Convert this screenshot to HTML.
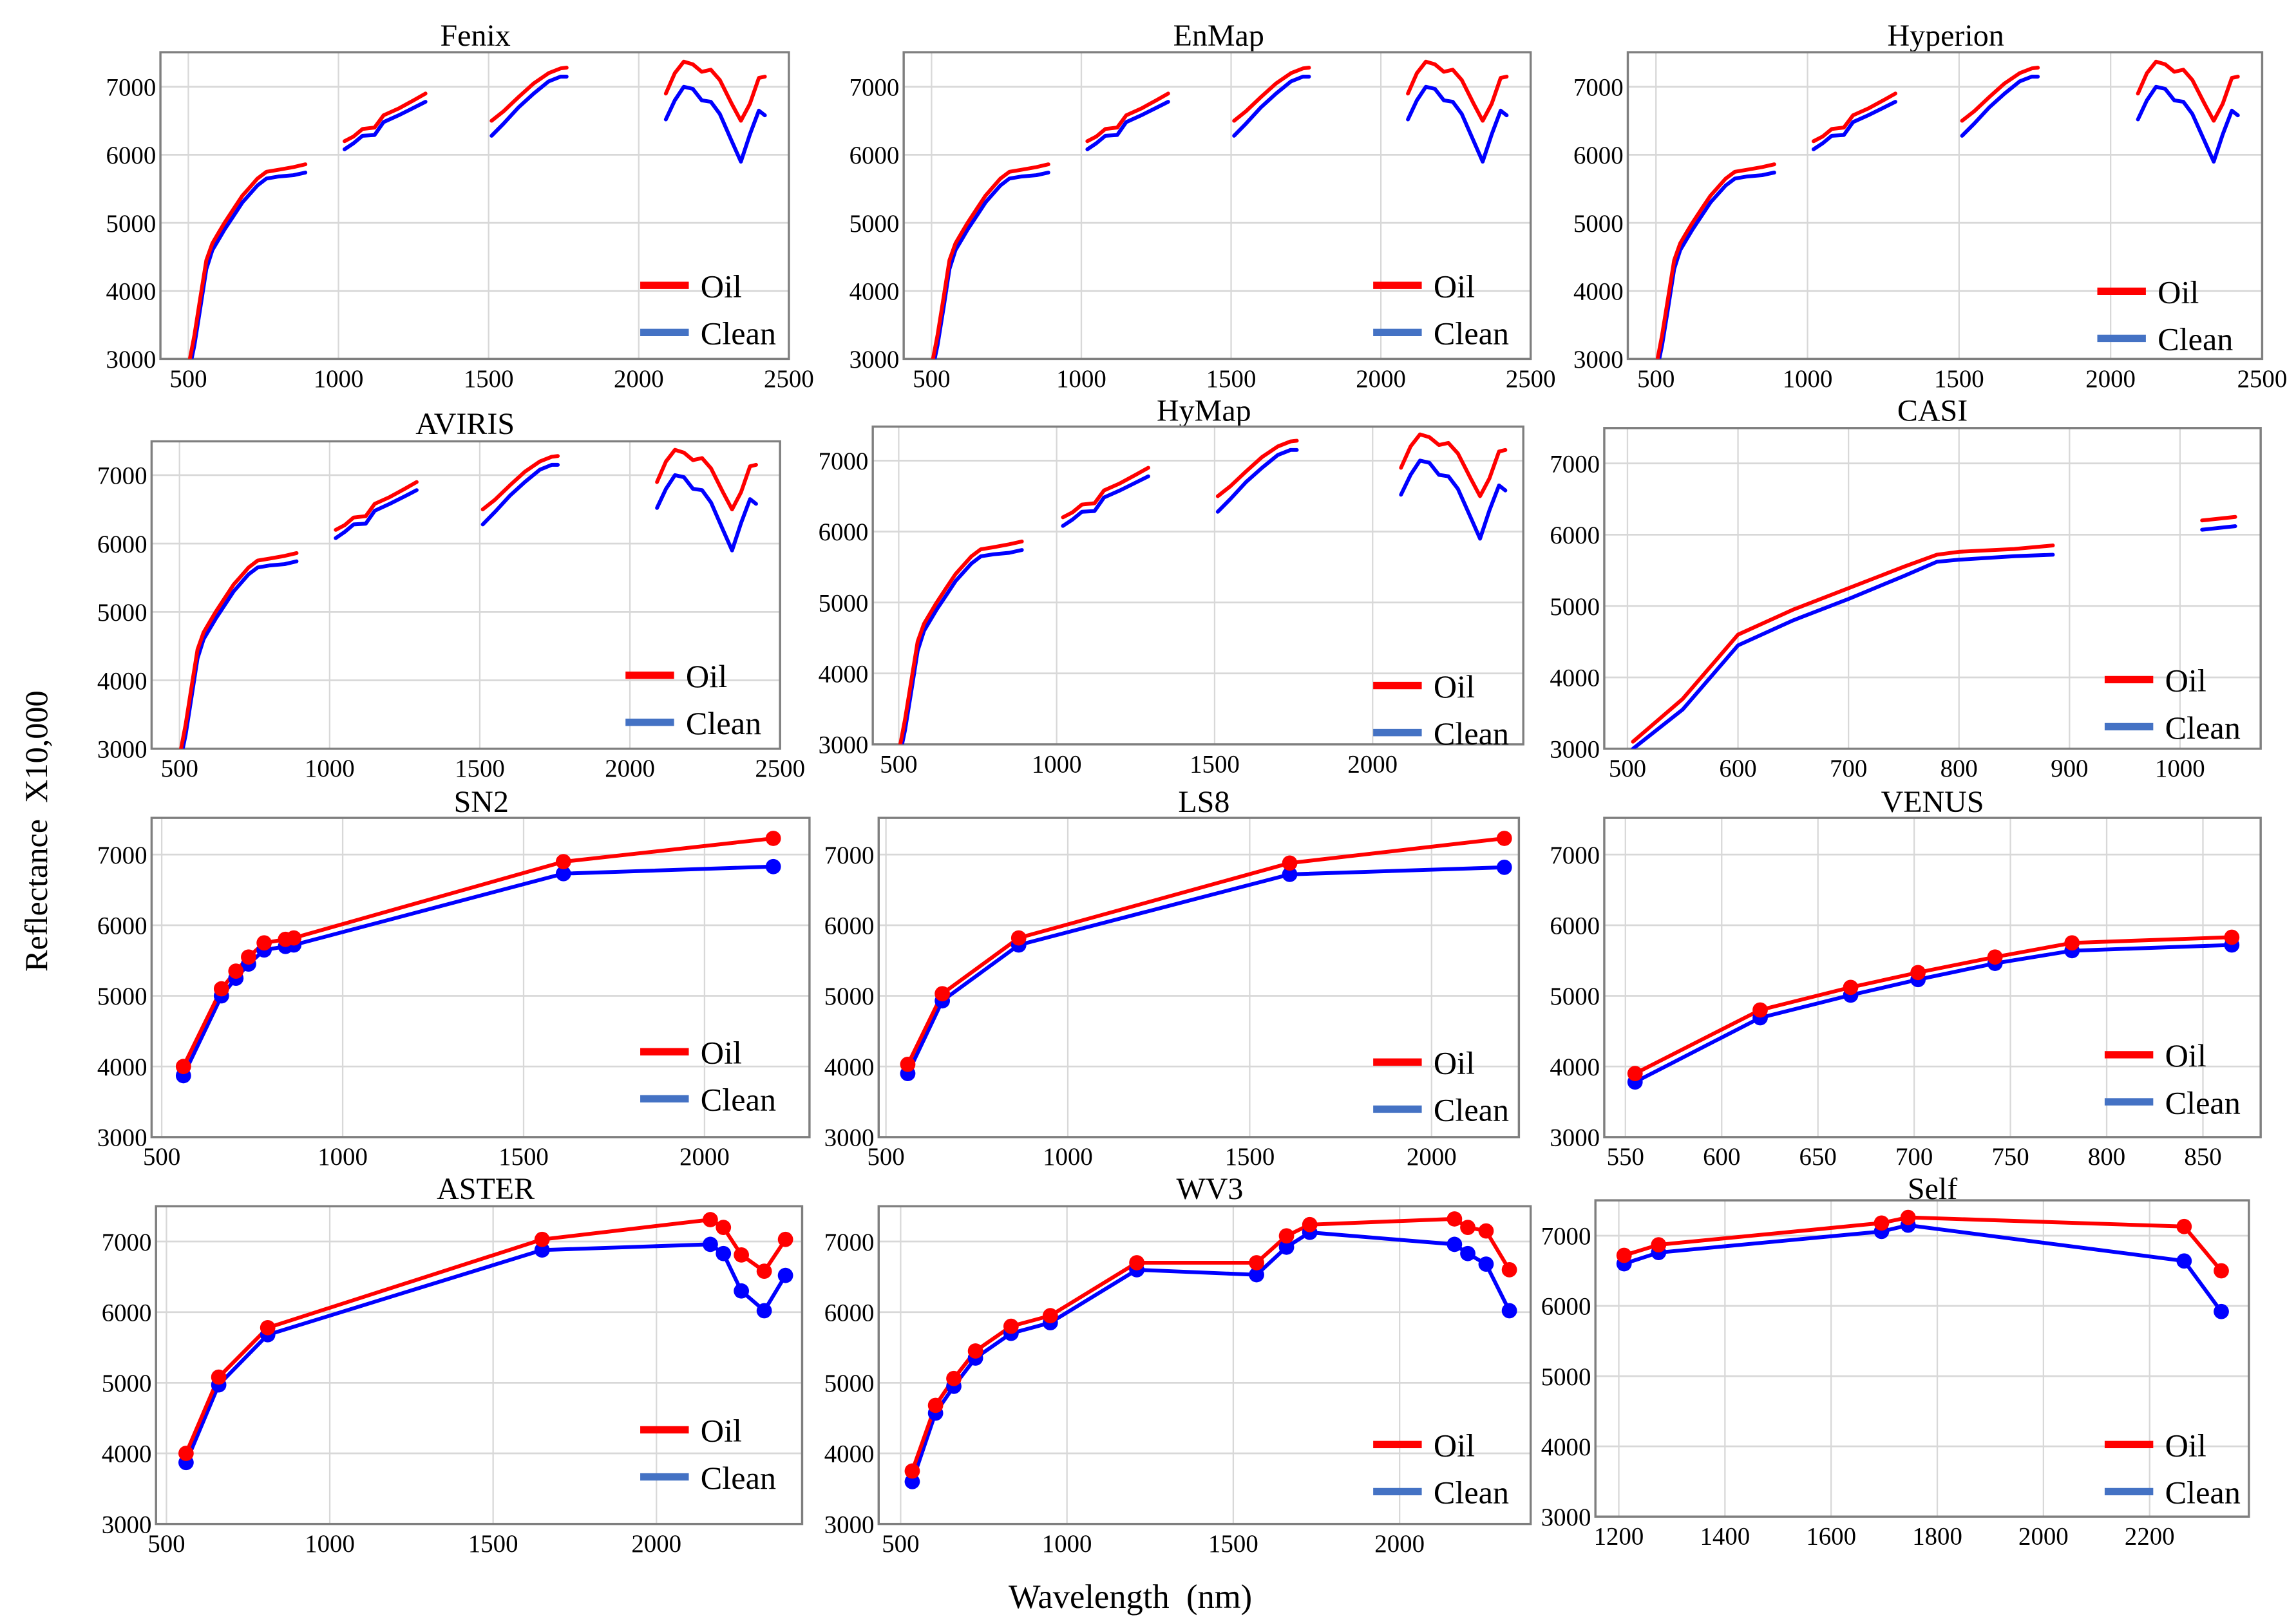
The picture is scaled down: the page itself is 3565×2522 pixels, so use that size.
<!DOCTYPE html>
<html><head><meta charset="utf-8"><style>
html,body{margin:0;padding:0;background:#fff;}
svg{display:block;font-family:"Liberation Serif",serif;}
</style></head><body>
<svg id="fig" width="3565" height="2522" viewBox="0 0 1560 1104" preserveAspectRatio="none" xmlns="http://www.w3.org/2000/svg">
<text x="0" y="0" transform="translate(32,565) rotate(-90)" text-anchor="middle" font-size="22">Reflectance&#160;&#160;X10,000</text>
<text x="768" y="1093" text-anchor="middle" font-size="23">Wavelength&#160;&#160;(nm)</text>
</svg>
<script>
// Shared hyperspectral spectrum (segments)
const hsWl = [
 [505,520,540,560,580,600,620,650,680,700,730,760,800,850,890],
 [1020,1050,1080,1120,1150,1200,1250,1290],
 [1510,1550,1600,1650,1700,1740,1760],
 [2090,2120,2150,2180,2210,2240,2270,2310,2340,2370,2400,2420]
];
const hsOil = [
 [3000,3350,3900,4450,4700,4850,5000,5200,5400,5500,5650,5750,5780,5820,5860],
 [6200,6270,6380,6400,6580,6680,6800,6900],
 [6500,6640,6850,7050,7200,7270,7280],
 [6900,7200,7370,7330,7220,7250,7100,6750,6500,6750,7130,7150]
];
const hsClean = [
 [2880,3200,3750,4320,4600,4750,4900,5100,5300,5400,5550,5650,5680,5700,5740],
 [6080,6170,6280,6290,6480,6580,6690,6780],
 [6280,6460,6700,6900,7080,7150,7150],
 [6520,6800,7000,6970,6800,6780,6600,6200,5900,6300,6650,6580]
];
const casiWl = [[505,550,600,650,700,750,780,800,850,885],[1020,1050]];
const casiOil = [[3100,3700,4600,4950,5250,5550,5720,5760,5800,5850],[6200,6250]];
const casiClean = [[3000,3550,4450,4800,5100,5420,5620,5650,5700,5720],[6070,6120]];
const sn2Wl = [560,665,705,740,783,842,865,1610,2190];
const sn2Oil = [4000,5100,5350,5550,5750,5800,5820,6900,7230];
const sn2Clean = [3870,5000,5250,5450,5650,5700,5720,6730,6830];
const ls8Wl = [560,655,865,1610,2200];
const ls8Oil = [4030,5030,5820,6880,7230];
const ls8Clean = [3900,4930,5720,6720,6820];
const venWl = [555,620,667,702,742,782,865];
const venOil = [3900,4800,5120,5330,5550,5750,5830];
const venClean = [3780,4690,5010,5230,5460,5640,5720];
const astWl = [560,660,810,1650,2165,2205,2260,2330,2395];
const astOil = [4000,5080,5780,7030,7310,7200,6810,6580,7030];
const astClean = [3870,4970,5680,6880,6960,6830,6300,6020,6520];
const wv3Wl = [535,605,660,725,832,950,1210,1570,1660,1730,2165,2205,2260,2330];
const wv3Oil = [3750,4680,5060,5450,5800,5950,6700,6700,7080,7240,7320,7200,7150,6600];
const wv3Clean = [3600,4570,4950,5350,5700,5850,6600,6530,6920,7130,6960,6830,6680,6020];
const selfWl = [1210,1275,1695,1745,2265,2335];
const selfOil = [6720,6870,7180,7260,7130,6500];
const selfClean = [6600,6760,7060,7150,6640,5920];
const yTicks = [3000,4000,5000,6000,7000];
const hsTicks = [500,1000,1500,2000,2500];

const panels = [
 {name:'Fenix',box:[109,35.5,536,244],xd:[407,2500],yd:[3000,7508],ticks:hsTicks,wl:hsWl,oil:hsOil,clean:hsClean,mk:false,tx:323,ty:31,lg:[435,194]},
 {name:'EnMap',box:[614,35.5,1040,244],xd:[407,2500],yd:[3000,7508],ticks:hsTicks,wl:hsWl,oil:hsOil,clean:hsClean,mk:false,tx:828,ty:31,lg:[933,194]},
 {name:'Hyperion',box:[1106,35.5,1537,244],xd:[407,2500],yd:[3000,7508],ticks:hsTicks,wl:hsWl,oil:hsOil,clean:hsClean,mk:false,tx:1322,ty:31,lg:[1425,198]},
 {name:'AVIRIS',box:[103,300,530,509],xd:[407,2500],yd:[3000,7495],ticks:hsTicks,wl:hsWl,oil:hsOil,clean:hsClean,mk:false,tx:316,ty:295,lg:[425,459]},
 {name:'HyMap',box:[593,290,1035,506],xd:[418,2477],yd:[3000,7480],ticks:[500,1000,1500,2000],wl:hsWl,oil:hsOil,clean:hsClean,mk:false,tx:818,ty:286,lg:[933,466]},
 {name:'CASI',box:[1090,291,1536,509],xd:[479,1073],yd:[3000,7495],ticks:[500,600,700,800,900,1000],wl:casiWl,oil:casiOil,clean:casiClean,mk:false,tx:1313,ty:286,lg:[1430,462]},
 {name:'SN2',box:[103,556,550,773],xd:[472,2290],yd:[3000,7520],ticks:[500,1000,1500,2000],wl:[sn2Wl],oil:[sn2Oil],clean:[sn2Clean],mk:true,tx:327,ty:552,lg:[435,715]},
 {name:'LS8',box:[597,556,1032,773],xd:[480,2240],yd:[3000,7520],ticks:[500,1000,1500,2000],wl:[ls8Wl],oil:[ls8Oil],clean:[ls8Clean],mk:true,tx:818,ty:552,lg:[933,722]},
 {name:'VENUS',box:[1090,556,1536,773],xd:[539,880],yd:[3000,7520],ticks:[550,600,650,700,750,800,850],wl:[venWl],oil:[venOil],clean:[venClean],mk:true,tx:1313,ty:552,lg:[1430,717]},
 {name:'ASTER',box:[106,820,545,1036],xd:[468,2446],yd:[3000,7500],ticks:[500,1000,1500,2000],wl:[astWl],oil:[astOil],clean:[astClean],mk:true,tx:330,ty:815,lg:[435,972]},
 {name:'WV3',box:[597,820,1040,1036],xd:[434,2394],yd:[3000,7500],ticks:[500,1000,1500,2000],wl:[wv3Wl],oil:[wv3Oil],clean:[wv3Clean],mk:true,tx:822,ty:815,lg:[933,982]},
 {name:'Self',box:[1084,816,1528,1031],xd:[1156,2387],yd:[3000,7503],ticks:[1200,1400,1600,1800,2000,2200],wl:[selfWl],oil:[selfOil],clean:[selfClean],mk:true,tx:1313,ty:815,lg:[1430,982]}
];
const NS='http://www.w3.org/2000/svg';
const svg=document.getElementById('fig');
function mk(tag,attrs,parent){const e=document.createElementNS(NS,tag);for(const k in attrs)e.setAttribute(k,attrs[k]);(parent||svg).appendChild(e);return e;}
const defs=mk('defs',{});
panels.forEach((p,i)=>{
 const [x0,y0,x1,y1]=p.box;
 const sx=v=>x0+(v-p.xd[0])/(p.xd[1]-p.xd[0])*(x1-x0);
 const sy=v=>y1-(v-p.yd[0])/(p.yd[1]-p.yd[0])*(y1-y0);
 const g=mk('g',{});
 
 
 const cp=mk('clipPath',{id:'c'+i},defs);
 mk('rect',{x:x0,y:y0,width:x1-x0,height:y1-y0},cp);
 const t=mk('text',{x:p.tx,y:p.ty,'text-anchor':'middle','font-size':21},g);
 t.textContent=p.name;
 
 
 yTicks.forEach(v=>{
  const y=sy(v);
  const gl=mk('line',{x1:x0,x2:x1,y1:y,y2:y,stroke:'#d8d8d8','stroke-width':1.2},g);
  
  
  const lt=mk('text',{x:x0-3,y:y+6,'text-anchor':'end','font-size':17},g);
  lt.textContent=v;
  
  
 });
 p.ticks.forEach(v=>{
  const x=sx(v);
  const gl=mk('line',{x1:x,x2:x,y1:y0,y2:y1,stroke:'#d8d8d8','stroke-width':1},g);
  
  
  const lt=mk('text',{x:x,y:y1+19,'text-anchor':'middle','font-size':17},g);
  lt.textContent=v;
  
  
 });
 const fr=mk('rect',{x:x0,y:y0,width:x1-x0,height:y1-y0,fill:'none',stroke:'#7f7f7f','stroke-width':1.5},g);
 
 
 const sg=mk('g',{'clip-path':'url(#c'+i+')'},g);
 [['clean','#0000ff'],['oil','#ff0000']].forEach(([k,col])=>{
  p.wl.forEach((wl,si)=>{
   const vals=p[k][si];
   const pts=wl.map((w,j)=>sx(w).toFixed(1)+','+sy(vals[j]).toFixed(1)).join(' ');
   const pl=mk('polyline',{points:pts,fill:'none',stroke:col,'stroke-width':2.6,'stroke-linejoin':'round','stroke-linecap':'round'},sg);
   
   
   if(p.mk){wl.forEach((w,j)=>{
     const c=mk('circle',{cx:sx(w),cy:sy(vals[j]),r:5.2,fill:col},g);
     
     
   });}
  });
 });
 const [lx,ly]=p.lg;
 [['Oil','#ff0000',0],['Clean','#4472c4',32]].forEach(([lab,col,dy])=>{
  const lg=mk('g',{},g);
  
  
  mk('line',{x1:lx,x2:lx+33,y1:ly+dy,y2:ly+dy,stroke:col,'stroke-width':5},lg);
  const tt=mk('text',{x:lx+41,y:ly+dy+8,'font-size':22},lg);
  tt.textContent=lab;
 });
});
</script>
</body></html>
